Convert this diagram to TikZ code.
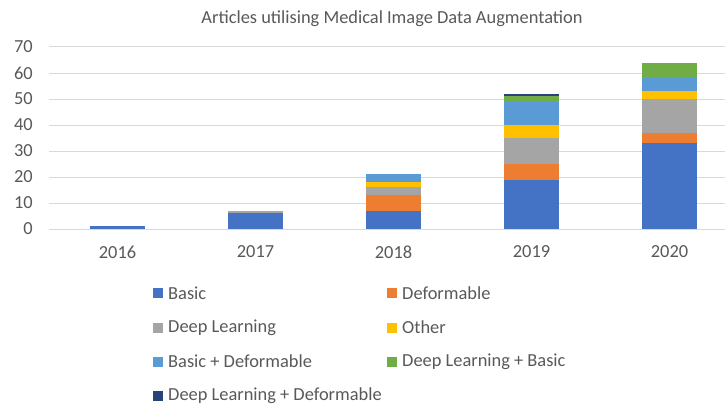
\documentclass[tikz,border=0pt]{standalone}
\usepackage{fontspec}
\setmainfont{Carlito}
\definecolor{cBasic}{HTML}{4472C4}
\definecolor{cDef}{HTML}{ED7D31}
\definecolor{cDL}{HTML}{A5A5A5}
\definecolor{cOther}{HTML}{FFC000}
\definecolor{cBD}{HTML}{5B9BD5}
\definecolor{cDLB}{HTML}{70AD47}
\definecolor{cDLD}{HTML}{264478}
\definecolor{txt}{HTML}{595959}
\definecolor{grid}{HTML}{D9D9D9}
\newcommand\barseg[4]{\fill[#4] ({#1-27.5},{229-2.6*#2}) rectangle ({#1+27.5},{229-2.6*#3});}
\begin{document}
\begin{tikzpicture}[x=1pt,y=-1pt,
  every node/.style={text=txt,font=\fontsize{18.4}{21}\selectfont,inner sep=0pt},
  gridline/.style={draw=grid,line width=1pt},
  legsq/.style={minimum size=10pt,inner sep=0pt}]
\useasboundingbox[fill=white] (0,0) rectangle (725,404);
\node (title) at (392,19) {Articles utilising Medical Image Data Augmentation};
\foreach \v in {0,...,7}{
  \pgfmathtruncatemacro\lab{10*\v}
  \draw[gridline] (49,{229-26*\v}) -- (725,{229-26*\v});
  \node[anchor=east] (y\v) at (33,{229-26*\v}) {\lab};
}
% 2016
\barseg{117.5}{0}{1}{cBasic}
% 2017
\barseg{255.5}{0}{6}{cBasic}
\barseg{255.5}{6}{7}{cDL}
% 2018
\barseg{393.5}{0}{7}{cBasic}
\barseg{393.5}{7}{13}{cDef}
\barseg{393.5}{13}{16}{cDL}
\barseg{393.5}{16}{18}{cOther}
\barseg{393.5}{18}{21}{cBD}
% 2019
\barseg{531.5}{0}{19}{cBasic}
\barseg{531.5}{19}{25}{cDef}
\barseg{531.5}{25}{35}{cDL}
\barseg{531.5}{35}{40}{cOther}
\barseg{531.5}{40}{49}{cBD}
\barseg{531.5}{49}{51}{cDLB}
\barseg{531.5}{51}{52}{cDLD}
% 2020
\barseg{669.5}{0}{33}{cBasic}
\barseg{669.5}{33}{37}{cDef}
\barseg{669.5}{37}{50}{cDL}
\barseg{669.5}{50}{53}{cOther}
\barseg{669.5}{53}{58}{cBD}
\barseg{669.5}{58}{64}{cDLB}
\foreach \yr [count=\i from 0] in {2016,2017,2018,2019,2020}{
  \node (x\yr) at ({117.5+138*\i},252) {\yr};
}
% legend
\foreach \c/\t/\x/\y [count=\k] in {
  cBasic/Basic/158/293,
  cDef/Deformable/392/293,
  cDL/Deep Learning/158/327.5,
  cOther/Other/392/327.5,
  cBD/Basic + Deformable/158/361.5,
  cDLB/Deep Learning + Basic/392/361.5,
  cDLD/Deep Learning + Deformable/158/395.5}{
  \node[legsq,fill=\c] (sq\k) at (\x,\y) {};
  \node[anchor=west] (lt\k) at (\x+10,\y) {\t};
}
\end{tikzpicture}
\end{document}
